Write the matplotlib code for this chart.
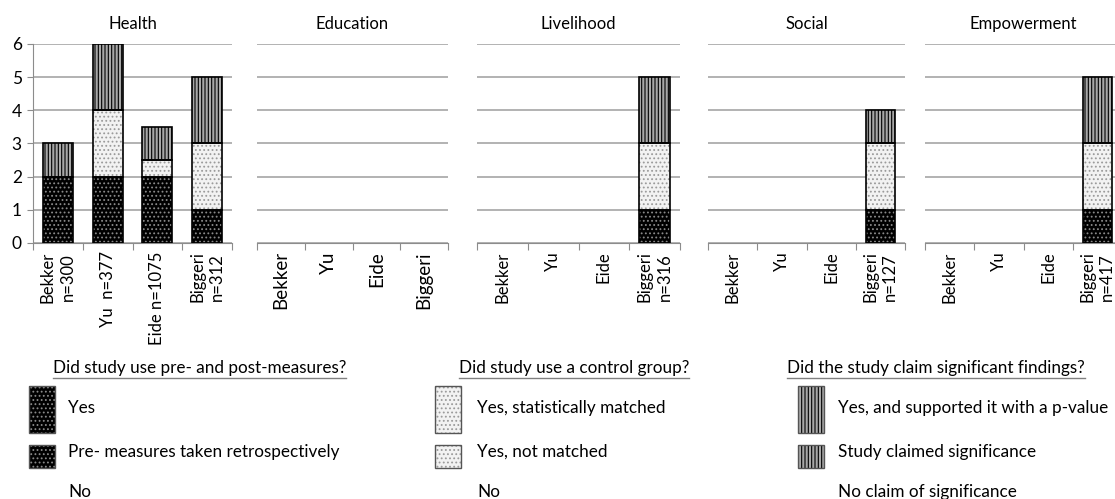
import matplotlib.pyplot as plt
from matplotlib.patches import Rectangle

plt.rcParams['font.family'] = ['Lato', 'DejaVu Sans']
plt.rcParams['hatch.linewidth'] = 0.8

# Data
domains = ['Health', 'Education', 'Livelihood', 'Social', 'Empowerment']
studies = ['Bekker', 'Yu', 'Eide', 'Biggeri']

pre_post = [[2, 2, 2, 1], [0, 0, 0, 0], [0, 0, 0, 1], [0, 0, 0, 1], [0, 0, 0, 1]]
control = [[0, 2, 0.5, 2], [0, 0, 0, 0], [0, 0, 0, 2], [0, 0, 0, 2], [0, 0, 0, 2]]
signif = [[1, 2, 1, 2], [0, 0, 0, 0], [0, 0, 0, 2], [0, 0, 0, 1], [0, 0, 0, 2]]

labels = [
    ['Bekker\nn=300', 'Yu  n=377', 'Eide n=1075', 'Biggeri\nn=312'],
    ['Bekker', 'Yu', 'Eide', 'Biggeri'],
    ['Bekker', 'Yu', 'Eide', 'Biggeri\nn=316'],
    ['Bekker', 'Yu', 'Eide', 'Biggeri\nn=127'],
    ['Bekker', 'Yu', 'Eide', 'Biggeri\nn=417'],
]
label_size = [12, 13.5, 12, 12, 12]

W, H = 1115, 499
fig = plt.figure(figsize=(W / 100, H / 100), dpi=100)

# axes extents in pixels (left, right)
extents = [(33, 232), (257, 448), (477, 680), (708, 905), (925, 1122)]
y0, y6 = 243, 44

grid_c = '#a6a6a6'
styles = [
    dict(facecolor='black', edgecolor='#8a8a8a', hatch='....'),
    dict(facecolor='#f2f2f2', edgecolor='#9a9a9a', hatch='....'),
    dict(facecolor='#a8a8a8', edgecolor='black', hatch='|||||'),
]

for i, dom in enumerate(domains):
    l, r = extents[i]
    ax = fig.add_axes([l / W, 1 - y0 / H, (r - l) / W, (y0 - y6) / H])
    bottom = [0] * len(studies)
    for vals, st in zip([pre_post[i], control[i], signif[i]], styles):
        # only draw segments that have a value
        xs = [k for k, v in enumerate(vals) if v > 0]
        hs = [vals[k] for k in xs]
        bs = [bottom[k] for k in xs]
        if xs:
            ax.bar(xs, hs, 0.6, bottom=bs, linewidth=0, zorder=3, **st)
            ax.bar(xs, hs, 0.6, bottom=bs, fill=False, edgecolor='black', linewidth=1.2, zorder=4)
        bottom = [b + v for b, v in zip(bottom, vals)]
    ax.set_xlim(-0.5, 3.5)
    ax.set_ylim(0, 6)
    ax.set_yticks(range(0, 7))
    ax.yaxis.grid(True, color=grid_c, linewidth=1.2, zorder=0)
    ax.set_axisbelow(True)
    for s in ['top', 'right']:
        ax.spines[s].set_visible(False)
    ax.spines['bottom'].set_color('#8c8c8c')
    ax.spines['left'].set_color('#8c8c8c')
    ax.set_xticks([-0.5, 0.5, 1.5, 2.5, 3.5])
    ax.set_xticklabels([])
    ax.tick_params(axis='x', which='major', length=5, color='#8c8c8c')
    ax.set_xticks(range(len(studies)), minor=True)
    ax.set_xticklabels(labels[i], minor=True, rotation=90, fontsize=label_size[i],
                       va='top', ha='center', linespacing=1.3)
    ax.tick_params(axis='x', which='minor', length=0, pad=6)
    if i == 0:
        ax.tick_params(axis='y', labelsize=12.5, length=4, color='#8c8c8c', pad=4)
    else:
        ax.spines['left'].set_visible(False)
        ax.tick_params(axis='y', left=False, labelleft=False)
    ax.set_title(dom, fontsize=12, pad=11)

# Legend area drawn in pixel coordinates
lg = fig.add_axes([0, 0, 1, 1], zorder=5)
lg.set_xlim(0, W)
lg.set_ylim(H, 0)
lg.axis('off')
lg.patch.set_alpha(0)

groups = [
    ('Did study use pre- and post-measures?', 53, 29, 68,
     ['Yes', 'Pre- measures taken retrospectively', 'No'], styles[0]),
    ('Did study use a control group?', 459, 435, 477,
     ['Yes, statistically matched', 'Yes, not matched', 'No'], styles[1]),
    ('Did the study claim significant findings?', 787, 798, 838,
     ['Yes, and supported it with a p-value', 'Study claimed significance', 'No claim of significance'], styles[2]),
]
fs = 12.3
for title, tx, px, lx, items, st in groups:
    t = lg.text(tx, 368, title, fontsize=fs, va='center', ha='left')
    fig.canvas.draw()
    bb = t.get_window_extent()
    lg.plot([bb.x0, bb.x1], [378, 378], color='#808080', linewidth=1)
    lg.add_patch(Rectangle((px, 386), 26, 47, linewidth=0, **st))
    lg.add_patch(Rectangle((px, 386), 26, 47, fill=False, edgecolor='#555555', linewidth=1))
    lg.add_patch(Rectangle((px, 445), 26, 23, linewidth=0, **st))
    lg.add_patch(Rectangle((px, 445), 26, 23, fill=False, edgecolor='#555555', linewidth=1))
    lg.text(lx, 408, items[0], fontsize=fs, va='center')
    lg.text(lx, 452, items[1], fontsize=fs, va='center')
    lg.text(lx, 492, items[2], fontsize=fs, va='center')

fig.savefig('out.png', dpi=100)
